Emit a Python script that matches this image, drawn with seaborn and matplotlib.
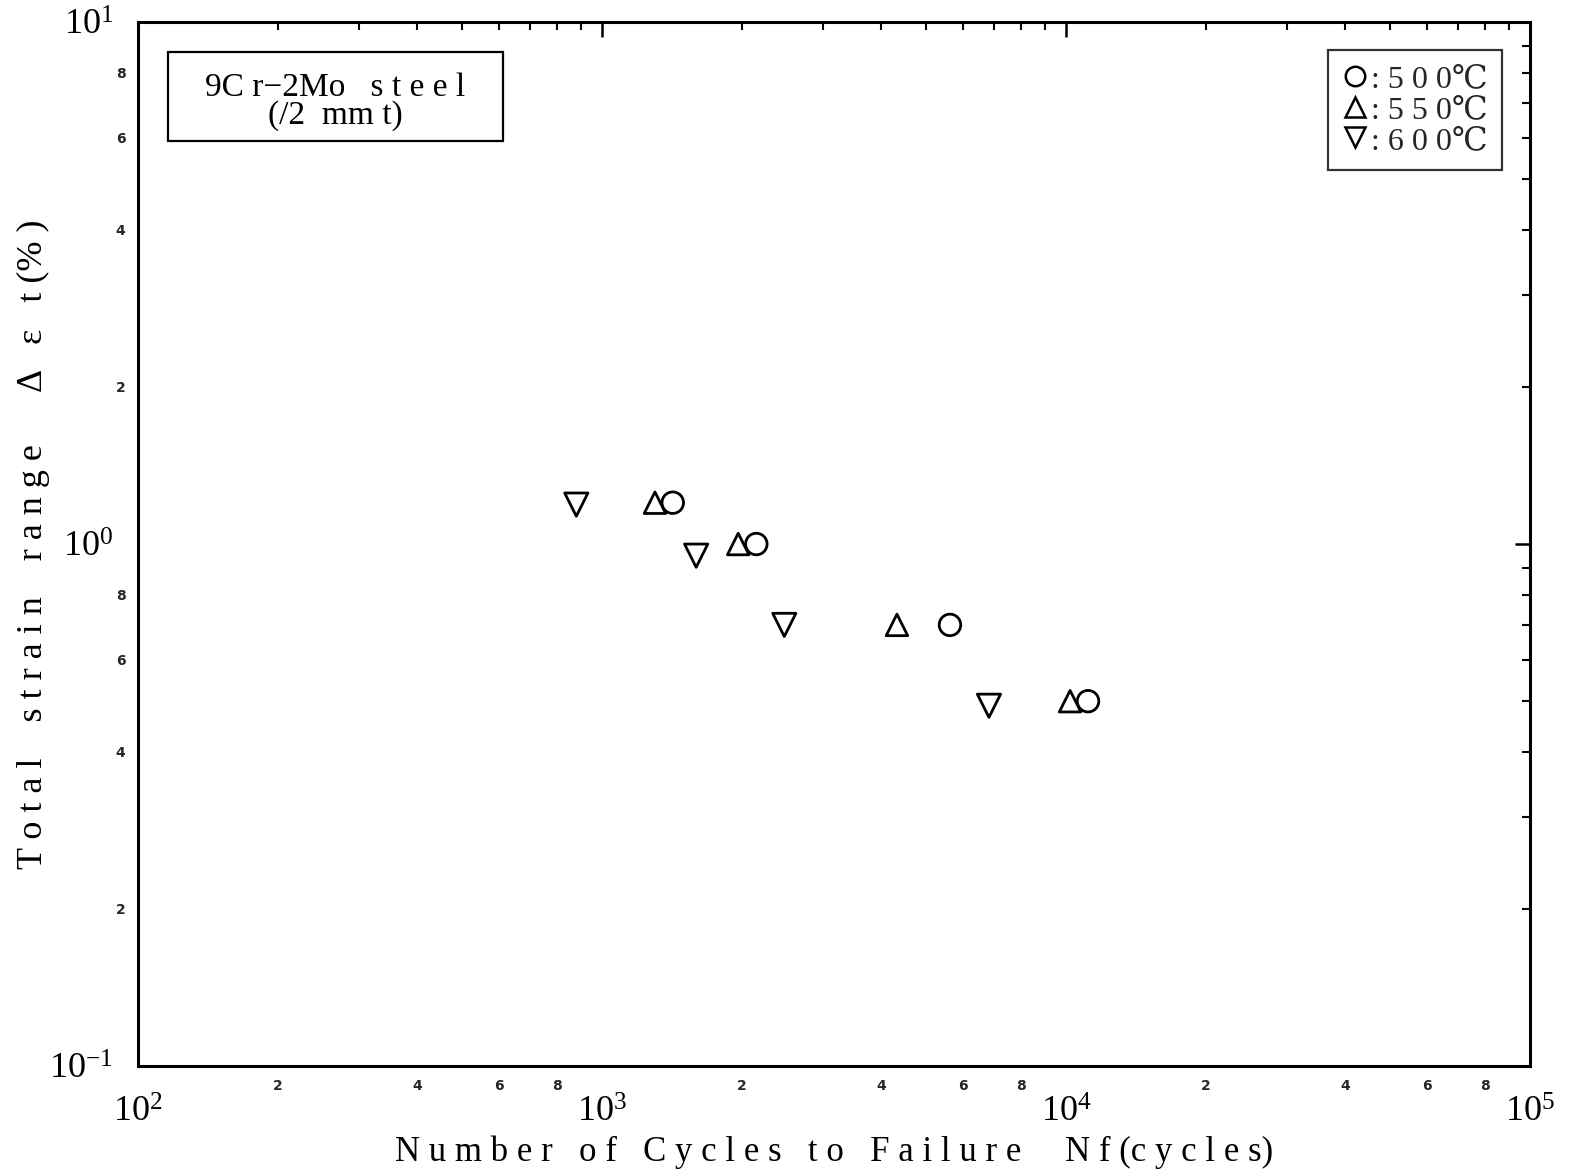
import matplotlib
matplotlib.use("Agg")
import matplotlib.pyplot as plt
from matplotlib.lines import Line2D
from matplotlib.patches import Rectangle
from matplotlib.ticker import FixedLocator, FuncFormatter, LogLocator, LogFormatterSciNotation
import numpy as np
import pandas as pd
import seaborn as sns

# Fatigue test results, 9Cr-2Mo steel
temps = ["500℃", "550℃", "600℃"]
cycles_500 = [1420, 2150, 5620, 11150]
strain_500 = [1.20, 1.00, 0.70, 0.50]
cycles_550 = [1300, 1965, 4320, 10200]
strain_550 = [1.20, 1.00, 0.70, 0.50]
cycles_600 = [880, 1595, 2470, 6820]
strain_600 = [1.19, 0.95, 0.70, 0.49]

df = pd.concat([
    pd.DataFrame({"Nf": cycles_500, "strain": strain_500, "temp": temps[0]}),
    pd.DataFrame({"Nf": cycles_550, "strain": strain_550, "temp": temps[1]}),
    pd.DataFrame({"Nf": cycles_600, "strain": strain_600, "temp": temps[2]}),
], ignore_index=True)

sns.set_theme(style="white")
plt.rcParams["font.family"] = ["Liberation Serif", "DejaVu Serif", "Noto Sans CJK JP"]
plt.rcParams["mathtext.fontset"] = "stix"

fig = plt.figure(figsize=(15.69, 11.72), dpi=100)
ax = fig.add_axes([0.088, 0.0904, 0.8872, 0.8908])

markers = {temps[0]: "o", temps[1]: "^", temps[2]: "v"}
sizes = {temps[0]: 240, temps[1]: 240, temps[2]: 280}
for t in temps:
    sub = df[df["temp"] == t]
    sns.scatterplot(data=sub, x="Nf", y="strain", marker=markers[t], s=sizes[t],
                    facecolor="none", edgecolor="black", linewidth=2.0,
                    legend=False, ax=ax, zorder=3)

ax.set_xscale("log")
ax.set_yscale("log")
ax.set_xlim(1e2, 1e5)
ax.set_ylim(1e-1, 1e1)

for s in ax.spines.values():
    s.set_color("black")
    s.set_linewidth(2.2)

ax.xaxis.set_major_locator(LogLocator(base=10, numticks=10))
ax.yaxis.set_major_locator(LogLocator(base=10, numticks=10))
ax.xaxis.set_major_formatter(LogFormatterSciNotation())
ax.yaxis.set_major_formatter(LogFormatterSciNotation())

def minor_positions(lo, hi):
    out = []
    for d in range(lo, hi):
        for m in range(2, 10):
            out.append(m * 10.0 ** d)
    return out

def minor_label(v, pos):
    m = int(round(v / 10 ** np.floor(np.log10(v) + 1e-9)))
    return str(m) if m in (2, 4, 6, 8) else ""

ax.xaxis.set_minor_locator(FixedLocator(minor_positions(2, 5)))
ax.yaxis.set_minor_locator(FixedLocator(minor_positions(-1, 1)))
ax.xaxis.set_minor_formatter(FuncFormatter(minor_label))
ax.yaxis.set_minor_formatter(FuncFormatter(minor_label))

ax.tick_params(which="both", direction="in", top=True, right=True, color="black")
ax.tick_params(which="major", length=11, width=1.8, labelsize=26, colors="black")
ax.tick_params(axis="x", which="major", pad=22)
ax.tick_params(axis="y", which="major", pad=18)
ax.tick_params(which="minor", length=6, width=1.5, labelsize=10, pad=9)
for lab in ax.get_xticklabels(minor=True) + ax.get_yticklabels(minor=True):
    lab.set_fontfamily("DejaVu Sans")
    lab.set_fontweight("bold")

ax.set_xlabel("N u m b e r   o f   C y c l e s   t o   F a i l u r e     N f (c y c l e s)",
              fontsize=25, color="black", va="center")
ax.xaxis.set_label_coords(0.5, -0.0824)
ax.set_ylabel("T o t a l    s t r a i n    r a n g e      Δ   ε   t (% )",
              fontsize=26, color="black", va="center")
ax.yaxis.set_label_coords(-0.075, 0.5)

# material label box
ax.add_patch(Rectangle((0.0215, 0.8865), 0.2406, 0.0852, transform=ax.transAxes,
                       fill=False, edgecolor="black", linewidth=1.6, zorder=4))
ax.text(0.1418, 0.9370, "9C r−2Mo   s t e e l", transform=ax.transAxes,
        ha="center", va="center", fontsize=24, color="black")
ax.text(0.1418, 0.9100, "(/2  mm t)", transform=ax.transAxes,
        ha="center", va="center", fontsize=24, color="black")

handles = [Line2D([], [], linestyle="none", marker=markers[t], markersize=14,
                  markerfacecolor="none", markeredgecolor="black", markeredgewidth=1.8)
           for t in temps]
labels = [": " + " ".join(t[:-1]) + t[-1] for t in temps]
leg = ax.legend(handles, labels, loc="upper right", bbox_to_anchor=(0.9799, 0.9732),
                borderaxespad=0.0, frameon=True, fancybox=False, fontsize=23,
                handlelength=0.8, handletextpad=0.1, labelspacing=0.05, borderpad=0.45)
leg.get_frame().set_edgecolor("black")
leg.get_frame().set_linewidth(1.6)

fig.savefig("out.png", dpi=100, facecolor="white")
